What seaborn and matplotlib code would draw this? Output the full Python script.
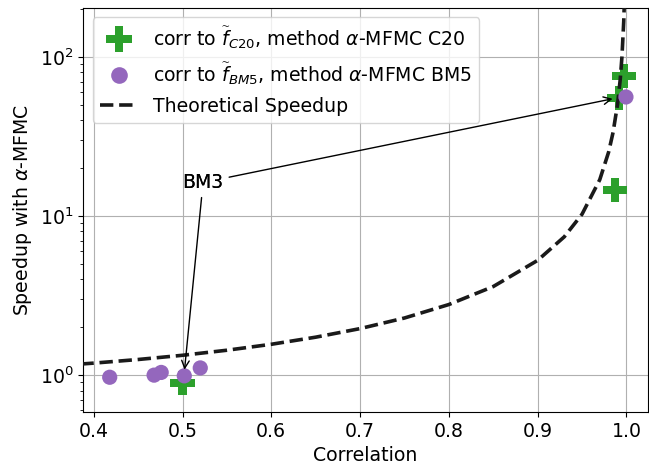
import numpy as np
import pandas as pd
import matplotlib
matplotlib.use('Agg')
import matplotlib.pyplot as plt
import seaborn as sns
from matplotlib.lines import Line2D

# values
corr_c20 = [0.500, 0.987, 0.992, 0.997]
speedup_c20 = [0.89, 14.6, 55.0, 76.0]

corr_bm5 = [0.418, 0.468, 0.476, 0.502, 0.520, 0.9995]
speedup_bm5 = [0.97, 1.00, 1.04, 0.99, 1.11, 56.0]

# theoretical speedup curve, sampled along the dashed line
corr_theory = [0.385, 0.40, 0.45, 0.50, 0.55, 0.60, 0.65, 0.70, 0.75, 0.80, 0.85,
               0.90, 0.93, 0.95, 0.97, 0.98, 0.985, 0.99, 0.993, 0.995, 0.997, 0.998]
speedup_theory = [1.174, 1.19, 1.254, 1.333, 1.434, 1.563, 1.732, 1.961, 2.286, 2.778, 3.604,
                  5.263, 7.40, 10.26, 16.92, 25.25, 33.58, 50.25, 71.68, 100.25, 166.9, 250.3]

df_c20 = pd.DataFrame({'corr': corr_c20, 'speedup': speedup_c20})
df_bm5 = pd.DataFrame({'corr': corr_bm5, 'speedup': speedup_bm5})
df_th = pd.DataFrame({'corr': corr_theory, 'speedup': speedup_theory})

green = '#2ca02c'
purple = '#9467bd'
fs = 13.6

fig, ax = plt.subplots(figsize=(6.49, 4.70), dpi=100)
fig.subplots_adjust(left=0.128, right=0.998, top=0.983, bottom=0.123)

sns.scatterplot(data=df_c20, x='corr', y='speedup', marker='P', s=300, color=green,
                edgecolor='none', linewidth=0, ax=ax, zorder=3)
sns.lineplot(data=df_th, x='corr', y='speedup', color='#1a1a1a', linestyle='--',
             linewidth=2.6, ax=ax, zorder=4, sort=False)
sns.scatterplot(data=df_bm5, x='corr', y='speedup', marker='o', s=120, color=purple,
                edgecolor='none', linewidth=0, ax=ax, zorder=5)

ax.set_yscale('log')
ax.set_xlim(0.388, 1.024)
ax.set_ylim(0.585, 203)
ax.grid(True, which='major', color='#b0b0b0', linewidth=0.8)
ax.set_axisbelow(True)

ax.set_xlabel('Correlation', fontsize=fs)
ax.set_ylabel(r'Speedup with $\alpha$-MFMC', fontsize=fs)
ax.tick_params(labelsize=fs)

# two arrows from the same label
ax.annotate('BM3', xy=(0.502, 1.04), xytext=(0.50, 15.0), fontsize=fs,
            arrowprops=dict(arrowstyle='->', color='black', lw=1), zorder=6)
ax.annotate('BM3', xy=(0.9875, 55.0), xytext=(0.50, 15.0), fontsize=fs,
            arrowprops=dict(arrowstyle='->', color='black', lw=1), zorder=6)

handles = [
    Line2D([], [], marker='P', color=green, linestyle='none', markersize=19, markeredgewidth=0),
    Line2D([], [], marker='o', color=purple, linestyle='none', markersize=12, markeredgewidth=0),
    Line2D([], [], color='#1a1a1a', linestyle='--', linewidth=2.6),
]
labels = [
    r'corr to $\widetilde{f}_{C20}$, method $\alpha$-MFMC C20',
    r'corr to $\widetilde{f}_{BM5}$, method $\alpha$-MFMC BM5',
    'Theoretical Speedup',
]
ax.legend(handles, labels, loc='upper left', fontsize=fs)

fig.savefig('out.png', dpi=100)
